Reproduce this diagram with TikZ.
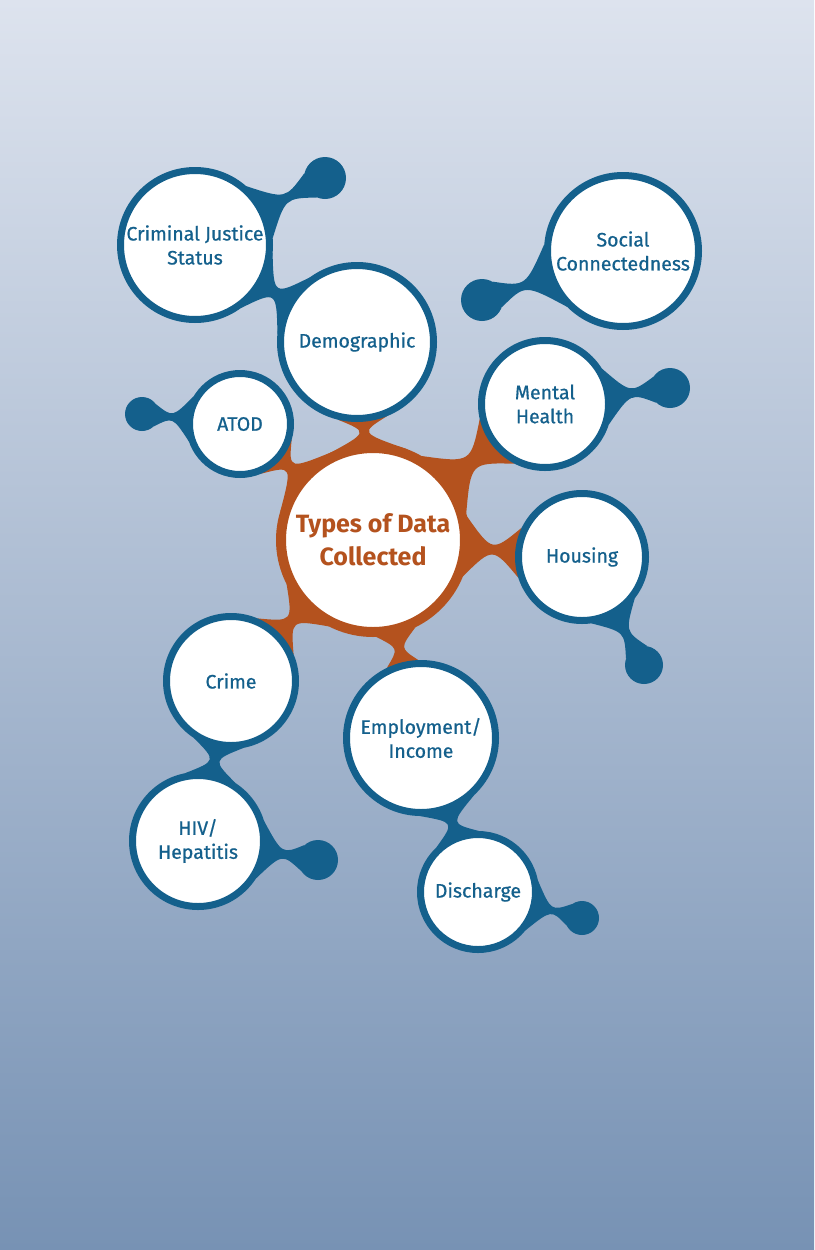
\documentclass[tikz,border=0pt]{standalone}
\usepackage{fontspec}
\setmainfont{Fira Sans}
\newfontfamily\labelfont{Fira Sans}[FakeBold=0.7]
\usetikzlibrary{calc}
\definecolor{dblue}{HTML}{14608C}
\definecolor{dorange}{HTML}{B4521E}
\definecolor{bgtop}{HTML}{DDE3EE}
\definecolor{bgmid}{HTML}{BCC7D9}
\definecolor{bgbot}{HTML}{7792B4}
\pgfdeclarelayer{back}
\pgfdeclarelayer{links}
\pgfsetlayers{back,links,main}
\newdimen\nkdx \newdimen\nkdy \newdimen\nkra \newdimen\nkrb
% #1 colour, #2 from, #3 to, #4 spread at from, #5 spread at to, #6 half waist
\newcommand{\neck}[6]{%
  \pgfextractx{\nkdx}{\pgfpointdiff{\pgfpointanchor{#2}{center}}{\pgfpointanchor{#3}{center}}}%
  \pgfextracty{\nkdy}{\pgfpointdiff{\pgfpointanchor{#2}{center}}{\pgfpointanchor{#3}{center}}}%
  \pgfextractx{\nkra}{\pgfpointdiff{\pgfpointanchor{#2}{center}}{\pgfpointanchor{#2}{east}}}%
  \pgfextractx{\nkrb}{\pgfpointdiff{\pgfpointanchor{#3}{center}}{\pgfpointanchor{#3}{east}}}%
  \pgfmathtruncatemacro{\nkA}{atan2(\nkdy,\nkdx)}%
  \pgfmathtruncatemacro{\nkB}{\nkA+180}%
  \pgfmathtruncatemacro{\nkAl}{\nkA+#4}%
  \pgfmathtruncatemacro{\nkAr}{\nkA-#4}%
  \pgfmathtruncatemacro{\nkBl}{\nkB-#5}%
  \pgfmathtruncatemacro{\nkBr}{\nkB+#5}%
  \pgfmathsetmacro{\nkW}{(#6-0.125*(\nkra*sin(#4)+\nkrb*sin(#5)))/0.75}%
  \path ($(#2.\nkA)!0.5!(#3.\nkB)$) coordinate (nkw);
  \fill[#1] (#2.\nkAl) .. controls ($(nkw)!\nkW pt!90:(#3)$) .. (#3.\nkBl)
    -- (#3.\nkBr) .. controls ($(nkw)!\nkW pt!-90:(#3)$) .. (#2.\nkAr) -- cycle;
}

\begin{document}
\begin{tikzpicture}[x=1pt, y=-1pt,
  cnode/.style={circle, draw=dblue, line width=7pt, fill=white, text=dblue, align=center, inner sep=0pt, font=\labelfont\fontsize{19.5}{24}\selectfont},
  hnode/.style={circle, draw=dorange, line width=10pt, fill=white, text=dorange, align=center, inner sep=0pt, font=\fontsize{25}{33}\selectfont\bfseries},
  bnode/.style={circle, fill=dblue, inner sep=0pt}]
    \useasboundingbox (0,0) rectangle (814,1250);
    \begin{pgfonlayer}{back}
      \shade[top color=bgtop, middle color=bgmid, bottom color=bgbot] (0,0) rectangle (814,1250);
    \end{pgfonlayer}

    \node[hnode, minimum size=184pt] (hub) at (373,540) {Types of Data\\Collected};
    \node[cnode, minimum size=149pt] (crim) at (195,245) {Criminal Justice\\Status};
    \node[cnode, minimum size=153pt] (demo) at (357,342) {Demographic};
    \node[cnode, minimum size=151pt] (social) at (623,251) {Social\\Connectedness};
    \node[cnode, minimum size=101pt] (atod) at (240,424) {ATOD};
    \node[cnode, minimum size=127pt] (mental) at (545,404) {Mental\\Health};
    \node[cnode, minimum size=127pt] (house) at (582,557) {Housing};
    \node[cnode, minimum size=129pt] (crime) at (231,681) {Crime};
    \node[cnode, minimum size=149pt] (employ) at (421,738) {Employment/\\Income};
    \node[cnode, minimum size=131pt] (hiv) at (198,841) {HIV/\\Hepatitis};
    \node[cnode, minimum size=115pt] (disch) at (478,892) {Discharge};

    \node[bnode, minimum size=42pt] (crimb) at (325,178) {};
    \node[bnode, minimum size=42pt] (socialb) at (482,300) {};
    \node[bnode, minimum size=34pt] (atodb) at (142,414) {};
    \node[bnode, minimum size=40pt] (mentalb) at (670,388) {};
    \node[bnode, minimum size=38pt] (houseb) at (644,665) {};
    \node[bnode, minimum size=40pt] (hivb) at (318,860) {};
    \node[bnode, minimum size=34pt] (dischb) at (582,918) {};

   \begin{pgfonlayer}{links}
    \neck{dorange}{hub}{demo}{25}{18}{5}
    \neck{dorange}{hub}{atod}{25}{25}{6}
    \neck{dorange}{hub}{mental}{22}{25}{8}
    \neck{dorange}{hub}{house}{18}{22}{5}
    \neck{dorange}{hub}{crime}{18}{22}{6}
    \neck{dorange}{hub}{employ}{12}{12}{5}
    \neck{dblue}{crim}{demo}{24}{24}{6}
    \neck{dblue}{crime}{hiv}{22}{22}{5}
    \neck{dblue}{employ}{disch}{22}{22}{5}
    \neck{dblue}{crim}{crimb}{22}{40}{5}
    \neck{dblue}{social}{socialb}{25}{40}{5}
    \neck{dblue}{atod}{atodb}{25}{40}{4}
    \neck{dblue}{mental}{mentalb}{25}{40}{5}
    \neck{dblue}{house}{houseb}{22}{40}{5}
    \neck{dblue}{hiv}{hivb}{25}{40}{5}
    \neck{dblue}{disch}{dischb}{25}{40}{4}
   \end{pgfonlayer}
\end{tikzpicture}
\end{document}
